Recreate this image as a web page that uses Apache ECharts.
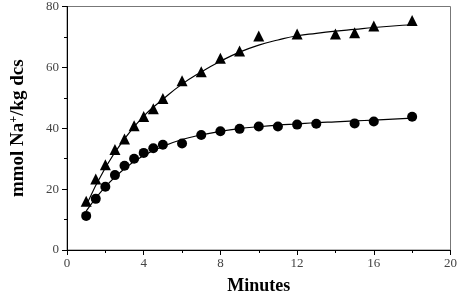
<!DOCTYPE html>
<html>
<head>
<meta charset="utf-8">
<script src="https://cdn.jsdelivr.net/npm/echarts@6/dist/echarts.min.js"></script>
<style>html,body{margin:0;padding:0;background:#fff}#c{width:460px;height:300px}</style>
</head>
<body>
<div id="c"></div>
<script>
const triX = [1, 1.5, 2, 2.5, 3, 3.5, 4, 4.5, 5, 6, 7, 8, 9, 10, 12, 14, 15, 16, 18];
const triY = [16, 23.3, 28, 33, 36.5, 40.8, 43.9, 46.4, 49.8, 55.6, 58.6, 63, 65.4, 70.3, 71, 71, 71.4, 73.6, 75.4];
const cirX = [1, 1.5, 2, 2.5, 3, 3.5, 4, 4.5, 5, 6, 7, 8, 9, 10, 11, 12, 13, 15, 16, 18];
const cirY = [11.2, 16.8, 20.8, 24.6, 27.7, 30, 31.9, 33.4, 34.6, 35, 37.8, 39, 39.8, 40.6, 40.6, 41.2, 41.5, 41.6, 42.2, 43.8];
const fitX = [1, 2, 3, 4, 5, 6, 7, 8, 9, 10, 11, 12, 13, 14, 15, 16, 17, 18];
const fitTri = [14.6, 27, 36.5, 44, 49.5, 54.5, 58.5, 62, 65, 67.3, 69, 70.4, 71.2, 71.9, 72.5, 73.1, 73.6, 74];
const fitCir = [12.8, 20.8, 26.7, 31, 34, 36.3, 37.8, 39, 39.9, 40.5, 41, 41.4, 41.8, 42.1, 42.4, 42.7, 43, 43.3];
const xTicks = { min: 0, max: 20, interval: 4 };
const yTicks = { min: 0, max: 80, interval: 20 };

const pairs = (xs, ys) => xs.map((x, i) => [x, ys[i]]);
const font = 'Liberation Serif';
const chart = echarts.init(document.getElementById('c'));
chart.setOption({
  animation: false,
  grid: { left: 63, right: 6, top: 3, bottom: 44, show: true, borderColor: '#777', borderWidth: 1, backgroundColor: 'transparent' },
  xAxis: {
    type: 'value', min: xTicks.min, max: xTicks.max, interval: xTicks.interval,
    name: 'Minutes', nameLocation: 'middle', nameGap: 27,
    nameTextStyle: { fontFamily: font, fontWeight: 'bold', fontSize: 18, color: '#000' },
    axisLine: { show: true, onZero: false, lineStyle: { color: '#000', width: 1 } },
    axisTick: { show: true, inside: false, length: 5, lineStyle: { color: '#000' } },
    minorTick: { show: true, splitNumber: 2, length: 3, lineStyle: { color: '#000' } },
    axisLabel: { fontFamily: font, fontSize: 13, color: '#444', margin: 7 },
    splitLine: { show: false }
  },
  yAxis: {
    type: 'value', min: yTicks.min, max: yTicks.max, interval: yTicks.interval,
    name: 'mmol Na{sup|+}/kg dcs', nameLocation: 'middle', nameGap: 38,
    nameTextStyle: { fontFamily: font, fontWeight: 'bold', fontSize: 19, color: '#000',
      rich: { sup: { fontFamily: font, fontWeight: 'bold', fontSize: 12, color: '#000', verticalAlign: 'top', padding: [0, 0, 9, 0] } } },
    axisLine: { show: true, onZero: false, lineStyle: { color: '#000', width: 1 } },
    axisTick: { show: true, inside: false, length: 5, lineStyle: { color: '#000' } },
    minorTick: { show: true, splitNumber: 2, length: 3, lineStyle: { color: '#000' } },
    axisLabel: { fontFamily: font, fontSize: 13, color: '#444', margin: 8 },
    splitLine: { show: false }
  },
  series: [
    { type: 'line', data: pairs(fitX, fitTri), smooth: true, symbol: 'none', lineStyle: { color: '#000', width: 1.2 }, z: 1 },
    { type: 'line', data: pairs(fitX, fitCir), smooth: true, symbol: 'none', lineStyle: { color: '#000', width: 1.2 }, z: 1 },
    { type: 'scatter', data: pairs(triX, triY), symbol: 'triangle', symbolSize: 11, itemStyle: { color: '#000', opacity: 1 }, z: 3 },
    { type: 'scatter', data: pairs(cirX, cirY), symbol: 'circle', symbolSize: 10, itemStyle: { color: '#000', opacity: 1 }, z: 3 }
  ]
});
</script>
</body>
</html>
